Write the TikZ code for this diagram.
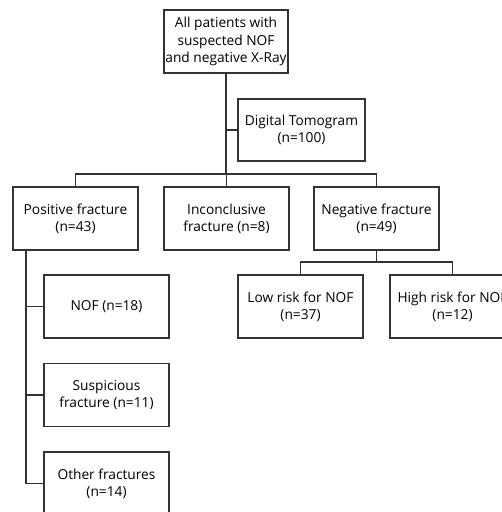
\documentclass[tikz,border=0pt]{standalone}
\usepackage{fontspec}
\setmainfont{Open Sans}
\begin{document}
\begin{tikzpicture}[x=0.75pt,y=-0.75pt,
  box/.style={draw=black!80,line width=1.1pt,minimum width=93.75pt,minimum height=47.25pt,inner sep=0pt,align=center,font=\fontsize{10.3}{12.9}\selectfont,text=black},
  conn/.style={draw=black!80,line width=1.1pt}]
\useasboundingbox (0,0) rectangle (502,512);
\clip (0,0) rectangle (502,512);
\node[box,minimum width=93pt] (top) at (226,41.5) {All patients with\\suspected NOF\\and negative X-Ray};
\node[box,minimum width=95.25pt,minimum height=46.5pt] (tomo) at (301.5,130) {Digital Tomogram\\(n=100)};
\node[box] (pos) at (75.5,218.5) {Positive fracture\\(n=43)};
\node[box] (incon) at (226.5,218.5) {Inconclusive\\fracture (n=8)};
\node[box] (neg) at (376.5,218.5) {Negative fracture\\(n=49)};
\node[box] (low) at (300.5,306.5) {Low risk for NOF\\(n=37)};
\node[box] (high) at (452.5,306.5) {High risk for NOF\\(n=12)};
\node[box] (nof) at (106.5,306.5) {NOF (n=18)};
\node[box] (susp) at (106.5,395) {Suspicious\\fracture (n=11)};
\node[box] (other) at (106.5,483.5) {Other fractures\\(n=14)};
\coordinate (bus) at (0,174);
\coordinate (nbus) at (0,262);
\coordinate (spine) at (26,0);
\draw[conn] (top.south) -- (top.south |- bus);
\draw[conn] (tomo.west) -- (tomo.west -| top.south);
\draw[conn] (pos.north) -- (pos.north |- bus) -- (neg.north |- bus) -- (neg.north);
\draw[conn] (incon.north) -- (incon.north |- bus);
\draw[conn] (neg.south) -- (neg.south |- nbus);
\draw[conn] (low.north) -- (low.north |- nbus) -- (high.north |- nbus) -- (high.north);
\draw[conn] (pos.south -| spine) -- (other.west -| spine);
\draw[conn] (nof.west) -- (nof.west -| spine);
\draw[conn] (susp.west) -- (susp.west -| spine);
\draw[conn] (other.west) -- (other.west -| spine);
\end{tikzpicture}
\end{document}
